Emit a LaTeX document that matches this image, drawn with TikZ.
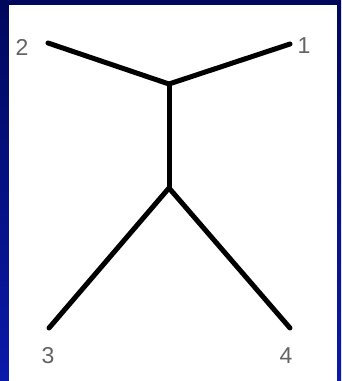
\documentclass[tikz,border=0pt]{standalone}
\usepackage{fontspec}
\setmainfont{Liberation Sans}
\usetikzlibrary{positioning}
\definecolor{navytop}{RGB}{0,8,92}
\definecolor{bluebottom}{RGB}{10,26,170}
\definecolor{labelgray}{RGB}{100,100,100}

\begin{document}
\begin{tikzpicture}[
        x=1pt, y=-1pt,
        branch/.style={line width=5pt, line cap=round, draw=black},
        leaf/.style={font=\fontsize{23}{23}\selectfont, text=labelgray, inner sep=0pt}
    ]
        \useasboundingbox (0,0) rectangle (341,381);
        \shade[top color=navytop, bottom color=bluebottom] (0,0) rectangle (341,381);
        \fill[white] (9,5) rectangle (337,381);

        % inner vertices
        \coordinate (upper) at (169,84);
        \coordinate (lower) at (169,188);

        % leaves
        \coordinate (e1) at (290,44);
        \coordinate (e2) at (48,43);
        \coordinate (e3) at (49,328);
        \coordinate (e4) at (290,328);

        \node[leaf] (l1) at (304,46) {1};
        \node[leaf] (l2) at (22,47) {2};
        \node[leaf] (l3) at (48,356) {3};
        \node[leaf] (l4) at (286,356) {4};

        \draw[branch] (e2) -- (upper) -- (e1);
        \draw[branch] (upper) -- (lower);
        \draw[branch] (e3) -- (lower) -- (e4);
    \end{tikzpicture}
\end{document}
